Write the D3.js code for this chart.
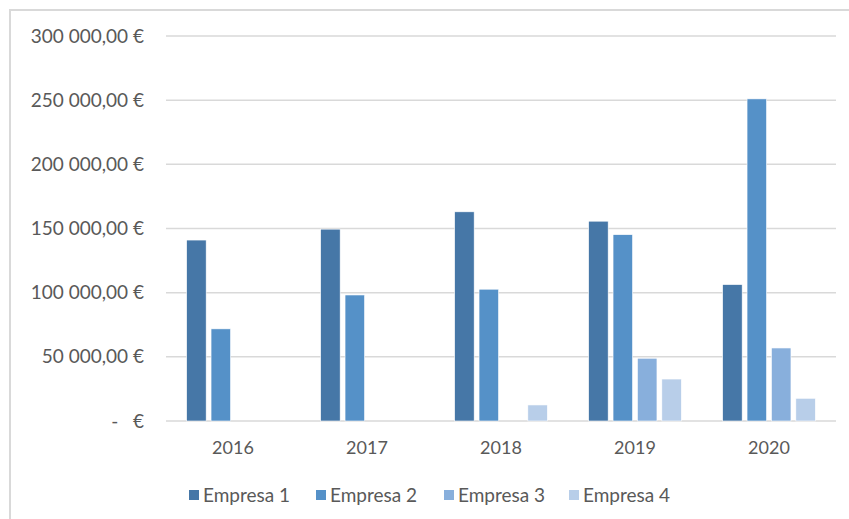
<!DOCTYPE html>
<html>
<head>
<meta charset="utf-8">
<script src="https://cdn.jsdelivr.net/npm/d3@7"></script>
<style>
  body { margin: 0; background: #fff; }
  text { font-family: Lato, "Open Sans", sans-serif; fill: #595959; }
</style>
</head>
<body>
<div id="chart"></div>
<script>
// data
var years = ['2016', '2017', '2018', '2019', '2020'];
var companies = ['Empresa 1', 'Empresa 2', 'Empresa 3', 'Empresa 4'];
var empresa1 = [141000, 149500, 163000, 155700, 106300];
var empresa2 = [71800, 98200, 102700, 145200, 251000];
var empresa3 = [0, 0, 0, 48900, 56900];
var empresa4 = [0, 0, 12500, 32700, 17700];
var yTicks = [0, 50000, 100000, 150000, 200000, 250000, 300000];
var colors = ['#4677a7', '#5591c8', '#88afdc', '#b8cee9'];

var series = [empresa1, empresa2, empresa3, empresa4];

var width = 849, height = 519;
var svg = d3.select('#chart').append('svg').attr('width', width).attr('height', height);

// outer chart border (right/bottom fall off the picture)
svg.append('rect').attr('x', 10).attr('y', 10).attr('width', 860).attr('height', 540)
  .attr('fill', 'none').attr('stroke', '#d9d9d9').attr('stroke-width', 2);

var plotLeft = 166, plotRight = 836, plotTop = 36, plotBottom = 421;

var y = d3.scaleLinear().domain([0, 300000]).range([plotBottom, plotTop]);
var x0 = d3.scaleBand().domain(years).range([plotLeft, plotRight]).padding(0);
var groupW = 97.6;
var x1 = d3.scaleBand().domain(companies).range([-groupW / 2, groupW / 2])
  .paddingInner(0.2).paddingOuter(0.1);

// number format like "300 000,00 €"
function fmt(v) {
  if (v == 0) return '-   €';
  var s = d3.format(',.2f')(v);
  return s.replace(/,/g, ' ').replace('.', ',') + ' €';
}

// gridlines
svg.append('g').selectAll('line').data(yTicks).enter().append('line')
  .attr('x1', plotLeft).attr('x2', plotRight)
  .attr('y1', function(d) { return y(d); }).attr('y2', function(d) { return y(d); })
  .attr('stroke', '#d9d9d9').attr('stroke-width', 1.5);

// y labels
svg.append('g').selectAll('text').data(yTicks).enter().append('text')
  .attr('x', 144).attr('y', function(d) { return y(d); })
  .attr('dy', '0.35em').attr('text-anchor', 'end')
  .style('font-size', '19px').style('white-space', 'pre')
  .text(fmt);

// x labels
svg.append('g').selectAll('text').data(years).enter().append('text')
  .attr('x', function(d) { return x0(d) + x0.bandwidth() / 2; })
  .attr('y', 448).attr('dy', '0.35em').attr('text-anchor', 'middle')
  .style('font-size', '18px')
  .text(function(d) { return d; });

// bars
var groups = svg.append('g').selectAll('g').data(years).enter().append('g')
  .attr('transform', function(d) { return 'translate(' + (x0(d) + x0.bandwidth() / 2) + ',0)'; });

groups.selectAll('rect').data(function(d, i) {
    return companies.map(function(c, j) { return {c: c, j: j, v: series[j][i]}; });
  })
  .enter().filter(function(d) { return d.v > 0; }).append('rect')
  .attr('x', function(d) { return x1(d.c); })
  .attr('width', x1.bandwidth())
  .attr('y', function(d) { return y(d.v); })
  .attr('height', function(d) { return plotBottom - y(d.v); })
  .attr('fill', function(d) { return colors[d.j]; })
  .attr('stroke', '#fff').attr('stroke-width', 0.6);

// legend
var legendX = [189, 316, 444, 569];
var legend = svg.append('g').selectAll('g').data(companies).enter().append('g')
  .attr('transform', function(d, i) { return 'translate(' + legendX[i] + ',495)'; });
legend.append('rect').attr('x', 0).attr('y', -5).attr('width', 10).attr('height', 10)
  .attr('fill', function(d, i) { return colors[i]; });
legend.append('text').attr('x', 14).attr('dy', '0.35em')
  .style('font-size', '19px').text(function(d) { return d; });
</script>
</body>
</html>
